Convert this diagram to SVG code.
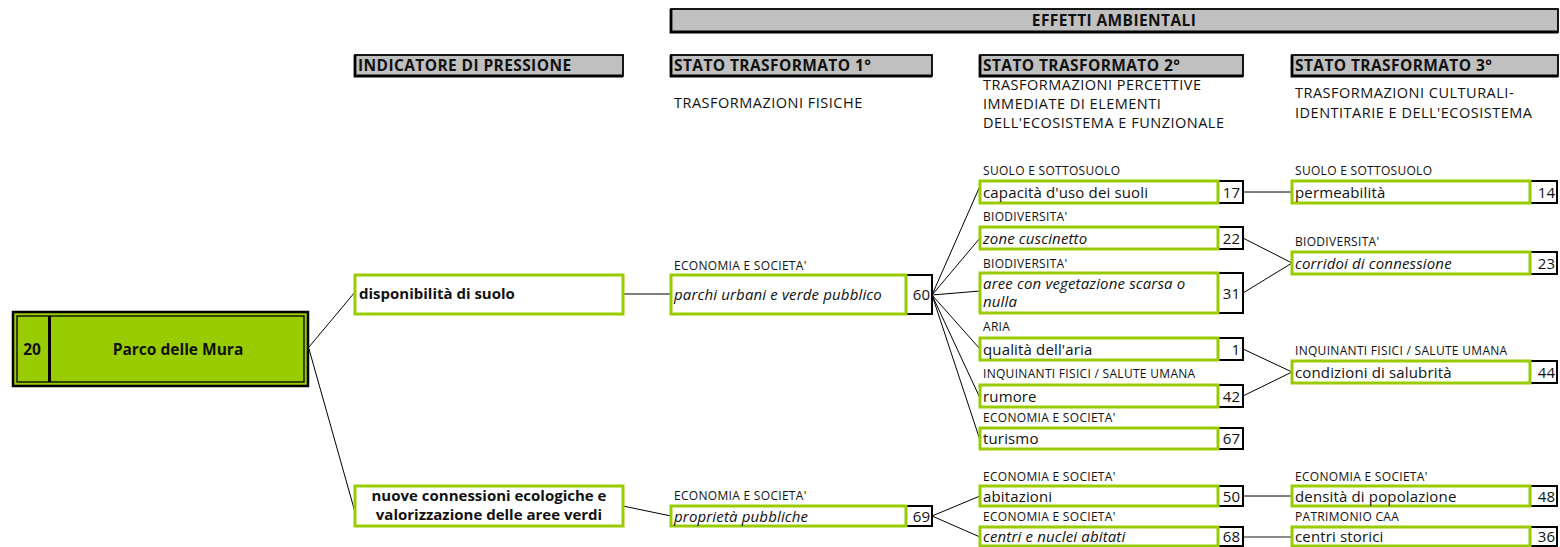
<svg xmlns="http://www.w3.org/2000/svg" width="1560" height="547" viewBox="0 0 1560 547">
<style>
text{font-family:"Open Sans","Noto Sans","Liberation Sans",sans-serif;fill:#111}
.hdr{fill:#c0c0c0;stroke:#000;stroke-width:1.8}
.hs{stroke:#000;stroke-width:2.8;fill:none}
.ht{font-size:15.5px;font-weight:bold;letter-spacing:0.4px}
.sub{font-size:14.5px;letter-spacing:0.5px}
.lab{font-size:12px;letter-spacing:0.3px}
.t{font-size:15px;letter-spacing:0.15px}
.it{font-style:italic}
.b{font-weight:bold;letter-spacing:0}
.g{fill:#fff;stroke:#99cc00;stroke-width:3}
.n{fill:#fff;stroke:#000;stroke-width:2}
.num{font-size:15px;text-anchor:end}
.c line{stroke:#000;stroke-width:1}
</style>

<g id="headers">
<rect class="hdr" x="671" y="9" width="887" height="23"/>
<path class="hs" d="M671 9 V32 H1558"/>
<text class="ht" x="1114" y="25.5" text-anchor="middle">EFFETTI AMBIENTALI</text>
<rect class="hdr" x="355" y="55" width="268" height="21"/>
<path class="hs" d="M355 55 V76 H623"/>
<text class="ht" x="358" y="71">INDICATORE DI PRESSIONE</text>
<rect class="hdr" x="671" y="55" width="261" height="21"/>
<path class="hs" d="M671 55 V76 H932"/>
<text class="ht" x="674" y="71">STATO TRASFORMATO 1°</text>
<rect class="hdr" x="980" y="55" width="263" height="21"/>
<path class="hs" d="M980 55 V76 H1243"/>
<text class="ht" x="983" y="71">STATO TRASFORMATO 2°</text>
<rect class="hdr" x="1292" y="55" width="266" height="21"/>
<path class="hs" d="M1292 55 V76 H1558"/>
<text class="ht" x="1295" y="71">STATO TRASFORMATO 3°</text>
<text class="sub" x="674" y="108">TRASFORMAZIONI FISICHE</text>
<text class="sub" x="983" y="90">TRASFORMAZIONI PERCETTIVE</text>
<text class="sub" x="983" y="109">IMMEDIATE DI ELEMENTI</text>
<text class="sub" x="983" y="128">DELL'ECOSISTEMA E FUNZIONALE</text>
<text class="sub" x="1295" y="98">TRASFORMAZIONI CULTURALI-</text>
<text class="sub" x="1295" y="118">IDENTITARIE E DELL'ECOSISTEMA</text>
</g>

<g class="c" id="connectors">
<line x1="309" y1="347" x2="355" y2="292"/>
<line x1="309" y1="349" x2="355" y2="512"/>
<line x1="623" y1="294" x2="671" y2="294"/>
<line x1="623" y1="506" x2="671" y2="516"/>
<line x1="932" y1="295" x2="980" y2="186"/>
<line x1="932" y1="295" x2="980" y2="238"/>
<line x1="932" y1="295" x2="980" y2="291"/>
<line x1="932" y1="295" x2="980" y2="349"/>
<line x1="932" y1="295" x2="980" y2="398"/>
<line x1="932" y1="295" x2="980" y2="440"/>
<line x1="1243" y1="192" x2="1292" y2="192"/>
<line x1="1243" y1="238" x2="1292" y2="263"/>
<line x1="1243" y1="293" x2="1292" y2="263"/>
<line x1="1243" y1="349" x2="1292" y2="372"/>
<line x1="1243" y1="396" x2="1292" y2="372"/>
<line x1="932" y1="516" x2="980" y2="496"/>
<line x1="932" y1="516" x2="980" y2="537"/>
<line x1="1243" y1="496" x2="1292" y2="496"/>
<line x1="1243" y1="537" x2="1292" y2="537" style="stroke:#666;stroke-width:1.5"/>
</g>

<g id="main">
<rect x="13" y="312" width="295" height="74" fill="#99cc00" stroke="#000" stroke-width="2.5"/>
<rect x="17" y="316" width="287" height="66" fill="#99cc00" stroke="#000" stroke-width="1.3"/>
<rect x="48" y="316" width="3" height="66" fill="#000"/>
<text class="b" x="32" y="355" font-size="15.5" text-anchor="middle">20</text>
<text class="b" x="178" y="355" font-size="15.5" text-anchor="middle">Parco delle Mura</text>
</g>

<g id="ind1">
<rect class="g" x="355" y="275" width="268" height="39"/>
<text class="t b" x="359" y="299">disponibilità di suolo</text>
</g>
<g id="ind2">
<rect class="g" x="355" y="486" width="268" height="40"/>
<text class="t b" x="489" y="501" text-anchor="middle">nuove connessioni ecologiche e</text>
<text class="t b" x="489" y="520" text-anchor="middle">valorizzazione delle aree verdi</text>
</g>

<g id="s1a">
<text class="lab" x="674" y="270">ECONOMIA E SOCIETA'</text>
<rect class="n" x="906" y="275" width="26" height="39"/>
<rect class="g" x="671" y="275" width="235" height="39"/>
<text class="t it" x="674" y="300">parchi urbani e verde pubblico</text>
<text class="num" x="930" y="300">60</text>
</g>
<g id="s1b">
<text class="lab" x="674" y="500">ECONOMIA E SOCIETA'</text>
<rect class="n" x="906" y="506" width="26" height="20"/>
<rect class="g" x="671" y="506" width="235" height="20"/>
<text class="t it" x="674" y="521.5">proprietà pubbliche</text>
<text class="num" x="930" y="521.5">69</text>
</g>

<g id="s2a">
<text class="lab" x="983" y="175">SUOLO E SOTTOSUOLO</text>
<rect class="n" x="1218" y="181" width="25" height="22"/>
<rect class="g" x="980" y="181" width="238" height="22"/>
<text class="t" x="983" y="197.5">capacità d'uso dei suoli</text>
<text class="num" x="1240" y="197.5">17</text>
</g>
<g id="s2b">
<text class="lab" x="983" y="221">BIODIVERSITA'</text>
<rect class="n" x="1218" y="227" width="25" height="22"/>
<rect class="g" x="980" y="227" width="238" height="22"/>
<text class="t it" x="983" y="243.5">zone cuscinetto</text>
<text class="num" x="1240" y="243.5">22</text>
</g>
<g id="s2c">
<text class="lab" x="983" y="268">BIODIVERSITA'</text>
<rect class="n" x="1218" y="273" width="25" height="40"/>
<rect class="g" x="980" y="273" width="238" height="40"/>
<text class="t it" x="983" y="289">aree con vegetazione scarsa o</text>
<text class="t it" x="983" y="307">nulla</text>
<text class="num" x="1240" y="299">31</text>
</g>
<g id="s2d">
<text class="lab" x="983" y="331">ARIA</text>
<rect class="n" x="1218" y="338" width="25" height="22"/>
<rect class="g" x="980" y="338" width="238" height="22"/>
<text class="t" x="983" y="354.5">qualità dell'aria</text>
<text class="num" x="1240" y="354.5">1</text>
</g>
<g id="s2e">
<text class="lab" x="983" y="378">INQUINANTI FISICI / SALUTE UMANA</text>
<rect class="n" x="1218" y="385" width="25" height="22"/>
<rect class="g" x="980" y="385" width="238" height="22"/>
<text class="t" x="983" y="401.5">rumore</text>
<text class="num" x="1240" y="401.5">42</text>
</g>
<g id="s2f">
<text class="lab" x="983" y="422">ECONOMIA E SOCIETA'</text>
<rect class="n" x="1218" y="428" width="25" height="21"/>
<rect class="g" x="980" y="428" width="238" height="21"/>
<text class="t" x="983" y="443.5">turismo</text>
<text class="num" x="1240" y="443.5">67</text>
</g>
<g id="s2g">
<text class="lab" x="983" y="481">ECONOMIA E SOCIETA'</text>
<rect class="n" x="1218" y="486" width="25" height="20"/>
<rect class="g" x="980" y="486" width="238" height="20"/>
<text class="t" x="983" y="501.5">abitazioni</text>
<text class="num" x="1240" y="501.5">50</text>
</g>
<g id="s2h">
<text class="lab" x="983" y="521">ECONOMIA E SOCIETA'</text>
<rect class="n" x="1218" y="527" width="25" height="19"/>
<rect class="g" x="980" y="527" width="238" height="19"/>
<text class="t it" x="983" y="542">centri e nuclei abitati</text>
<text class="num" x="1240" y="542">68</text>
</g>

<g id="s3a">
<text class="lab" x="1295" y="175">SUOLO E SOTTOSUOLO</text>
<rect class="n" x="1530" y="181" width="27" height="22"/>
<rect class="g" x="1292" y="181" width="238" height="22"/>
<text class="t" x="1295" y="197.5">permeabilità</text>
<text class="num" x="1555" y="197.5">14</text>
</g>
<g id="s3b">
<text class="lab" x="1295" y="246">BIODIVERSITA'</text>
<rect class="n" x="1530" y="252" width="27" height="22"/>
<rect class="g" x="1292" y="252" width="238" height="22"/>
<text class="t it" x="1295" y="268.5">corridoi di connessione</text>
<text class="num" x="1555" y="268.5">23</text>
</g>
<g id="s3c">
<text class="lab" x="1295" y="355">INQUINANTI FISICI / SALUTE UMANA</text>
<rect class="n" x="1530" y="361" width="27" height="22"/>
<rect class="g" x="1292" y="361" width="238" height="22"/>
<text class="t" x="1295" y="377.5">condizioni di salubrità</text>
<text class="num" x="1555" y="377.5">44</text>
</g>
<g id="s3d">
<text class="lab" x="1295" y="481">ECONOMIA E SOCIETA'</text>
<rect class="n" x="1530" y="486" width="27" height="20"/>
<rect class="g" x="1292" y="486" width="238" height="20"/>
<text class="t" x="1295" y="501.5">densità di popolazione</text>
<text class="num" x="1555" y="501.5">48</text>
</g>
<g id="s3e">
<text class="lab" x="1295" y="521">PATRIMONIO CAA</text>
<rect class="n" x="1530" y="527" width="27" height="19"/>
<rect class="g" x="1292" y="527" width="238" height="19"/>
<text class="t" x="1295" y="542">centri storici</text>
<text class="num" x="1555" y="542">36</text>
</g>
</svg>
